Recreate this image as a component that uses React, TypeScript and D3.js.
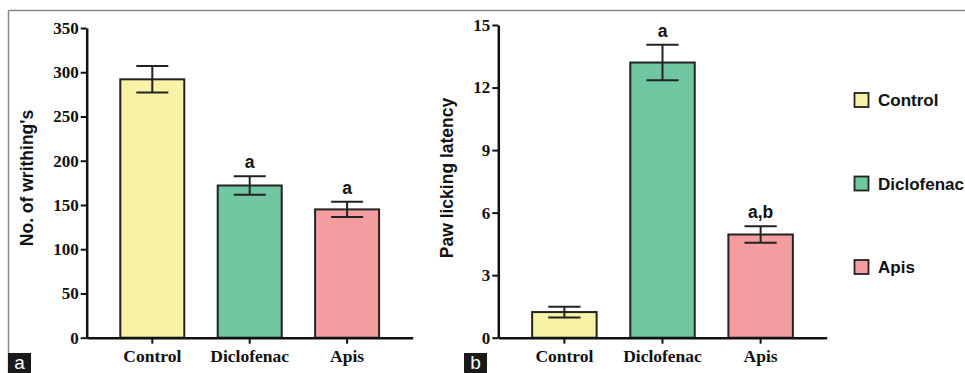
import React, { useEffect, useRef } from 'react'
import * as d3 from 'd3'

// groups shared by both panels
const groups = ['Control', 'Diclofenac', 'Apis']
const colors = ['#F7F2A5', '#6FC6A0', '#F49DA1']

// panel a: writhing counts
const writhingMean = [292, 172, 145]
const writhingErr = [15, 10.5, 8.7]
const writhingMarks = ['', 'a', 'a']
const writhingTicks = [0, 50, 100, 150, 200, 250, 300, 350]

// panel b: paw licking latency
const latencyMean = [1.23, 13.2, 4.95]
const latencyErr = [0.26, 0.85, 0.4]
const latencyMarks = ['', 'a', 'a,b']
const latencyTicks = [0, 3, 6, 9, 12, 15]

const serif = '"Liberation Serif", "Times New Roman", serif'
const sans = '"Liberation Sans", Arial, sans-serif'

function drawPanel (svg, opts) {
  const { x0, x1, yTop, yMax, ticks, mean, err, marks, title, titleX } = opts
  const y0 = 337.7

  const x = d3.scaleBand().domain(groups).range([x0, x1]).paddingInner(0.343).paddingOuter(0.345)
  const y = d3.scaleLinear().domain([0, yMax]).range([y0, yTop])

  const g = svg.append('g')

  // bars
  g.selectAll('.bar')
    .data(groups)
    .enter().append('rect')
    .attr('x', (d) => x(d))
    .attr('y', (d, i) => y(mean[i]))
    .attr('width', x.bandwidth())
    .attr('height', (d, i) => y0 - y(mean[i]))
    .attr('fill', (d, i) => colors[i])
    .attr('stroke', '#222')
    .attr('stroke-width', 2)

  // error bars
  const capW = x.bandwidth() / 2
  groups.forEach((d, i) => {
    const cx = x(d) + x.bandwidth() / 2
    const hi = y(mean[i] + err[i])
    const lo = y(mean[i] - err[i])
    g.append('line').attr('x1', cx).attr('x2', cx).attr('y1', hi).attr('y2', lo)
      .attr('stroke', '#222').attr('stroke-width', 2)
    g.append('line').attr('x1', cx - capW / 2).attr('x2', cx + capW / 2).attr('y1', hi).attr('y2', hi)
      .attr('stroke', '#222').attr('stroke-width', 2)
    g.append('line').attr('x1', cx - capW / 2).attr('x2', cx + capW / 2).attr('y1', lo).attr('y2', lo)
      .attr('stroke', '#222').attr('stroke-width', 2)
    if (marks[i]) {
      g.append('text')
        .attr('x', cx).attr('y', hi - 8)
        .attr('text-anchor', 'middle')
        .attr('font-family', sans).attr('font-weight', 'bold').attr('font-size', 17.5)
        .attr('fill', '#111')
        .text(marks[i])
    }
  })

  // y axis
  const yAxis = g.append('g')
    .attr('transform', 'translate(' + x0 + ',0)')
    .call(d3.axisLeft(y).tickValues(ticks).tickSize(6).tickPadding(2).tickSizeOuter(0))
  yAxis.select('.domain').attr('stroke', '#111').attr('stroke-width', 2.5)
  yAxis.selectAll('.tick line').attr('stroke', '#111').attr('stroke-width', 2)
  yAxis.selectAll('.tick text')
    .attr('font-family', serif).attr('font-weight', 'bold').attr('font-size', 17).attr('fill', '#111')

  // x axis
  const xAxis = g.append('g')
    .attr('transform', 'translate(0,' + y0 + ')')
    .call(d3.axisBottom(x).tickSize(6).tickPadding(6).tickSizeOuter(0))
  xAxis.select('.domain').attr('stroke', '#111').attr('stroke-width', 2.5)
  xAxis.selectAll('.tick line').attr('stroke', '#111').attr('stroke-width', 2)
  xAxis.selectAll('.tick text')
    .attr('font-family', serif).attr('font-weight', 'bold').attr('font-size', 17.5).attr('fill', '#111')

  // y title
  g.append('text')
    .attr('transform', 'translate(' + titleX + ',' + 178 + ') rotate(-90)')
    .attr('text-anchor', 'middle')
    .attr('dy', '0.35em')
    .attr('font-family', sans).attr('font-weight', 'bold').attr('font-size', 17.5)
    .attr('fill', '#111')
    .text(title)
}

function panelTag (svg, x, label) {
  svg.append('rect').attr('x', x).attr('y', 353).attr('width', 23).attr('height', 20).attr('fill', '#1a1a1a')
  svg.append('text')
    .attr('x', x + 11.5).attr('y', 369)
    .attr('text-anchor', 'middle')
    .attr('font-family', sans).attr('font-size', 19)
    .attr('fill', '#fff')
    .text(label)
}

export default function App () {
  const ref = useRef(null)

  useEffect(() => {
    const svg = d3.select(ref.current)
    svg.selectAll('*').remove()

    // frame
    svg.append('line').attr('x1', 8.5).attr('x2', 965).attr('y1', 10.5).attr('y2', 10.5)
      .attr('stroke', '#888').attr('stroke-width', 1.5)
    svg.append('line').attr('x1', 8.5).attr('x2', 8.5).attr('y1', 10.5).attr('y2', 373)
      .attr('stroke', '#888').attr('stroke-width', 1.5)

    drawPanel(svg, {
      x0: 86.7, x1: 412.7, yTop: 28, yMax: 350, ticks: writhingTicks,
      mean: writhingMean, err: writhingErr, marks: writhingMarks,
      title: "No. of writhing's", titleX: 27
    })
    drawPanel(svg, {
      x0: 498.3, x1: 826.7, yTop: 25, yMax: 15, ticks: latencyTicks,
      mean: latencyMean, err: latencyErr, marks: latencyMarks,
      title: 'Paw licking latency', titleX: 447
    })

    // legend
    const legendY = [100, 183.5, 267]
    groups.forEach((d, i) => {
      svg.append('rect')
        .attr('x', 854.5).attr('y', legendY[i] - 7).attr('width', 14).attr('height', 14)
        .attr('fill', colors[i]).attr('stroke', '#222').attr('stroke-width', 1.8)
      svg.append('text')
        .attr('x', 878).attr('y', legendY[i])
        .attr('dy', '0.36em')
        .attr('font-family', sans).attr('font-weight', 'bold').attr('font-size', 17)
        .attr('fill', '#111')
        .text(d)
    })

    panelTag(svg, 8, 'a')
    panelTag(svg, 464, 'b')
  }, [])

  return (
    <svg ref={ref} width={965} height={373}
      style={{ position: 'absolute', left: 0, top: 0, background: '#fff' }} />
  )
}
